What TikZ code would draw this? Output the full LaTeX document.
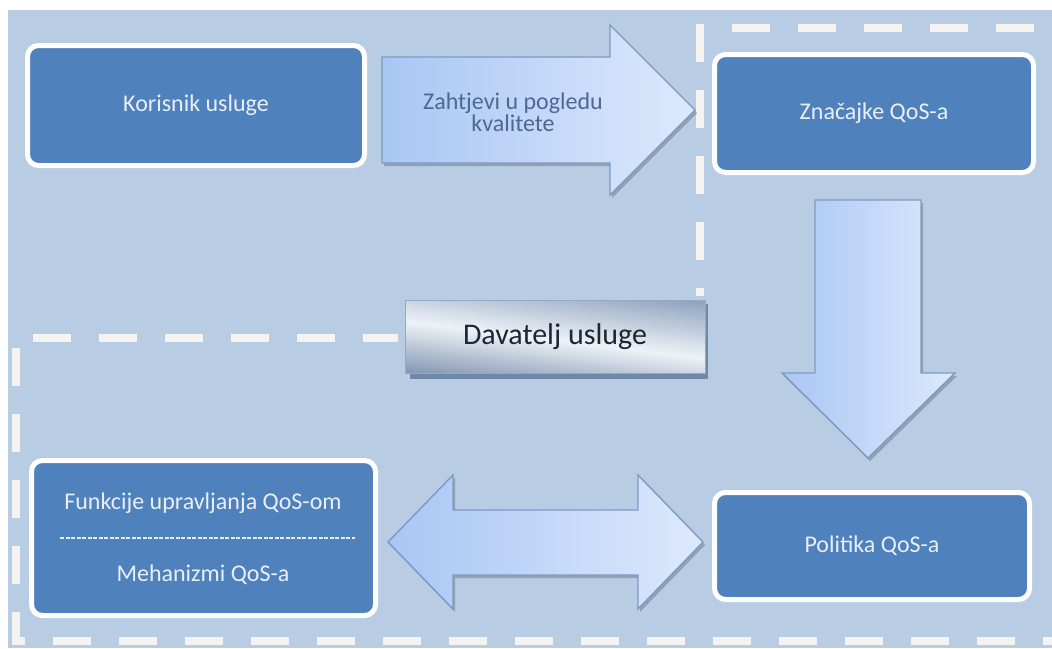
\documentclass[tikz,border=0pt]{standalone}
\usepackage{fontspec}
\setmainfont{Carlito}
\usetikzlibrary{shadows}
\definecolor{bg}{HTML}{B8CCE4}
\definecolor{boxblue}{HTML}{4F81BD}
\definecolor{boxtxt}{HTML}{E8EFF8}
\definecolor{dashc}{HTML}{F4F3EF}
\definecolor{arrL}{HTML}{A9C6F3}
\definecolor{arrR}{HTML}{DDE9FC}
\definecolor{arrD}{HTML}{7D9AC6}
\definecolor{arrtxt}{HTML}{4D6892}
\definecolor{davT}{HTML}{8CA1BD}
\definecolor{davB}{HTML}{7389A8}
\definecolor{davL}{HTML}{EEF2F7}
\definecolor{davE}{HTML}{94A9C5}
\definecolor{davS}{HTML}{6F87A8}
\definecolor{davtxt}{HTML}{1E2731}
\begin{document}
\begin{tikzpicture}[x=1pt,y=-1pt,
  qbox/.style={rectangle, rounded corners=11pt, draw=white, line width=5pt,
    fill=boxblue, text=boxtxt, font=\fontsize{24}{28}\selectfont, inner sep=0pt},
  btext/.style={text=boxtxt, font=\fontsize{24}{28}\selectfont, inner sep=0pt},
  border/.style={draw=dashc, line width=8pt, dash pattern=on 37.5pt off 28.5pt},
  blockarrow/.style={draw=arrD, line width=1.4pt, left color=arrL, right color=arrR,
    line join=miter,
    drop shadow={shadow xshift=2pt, shadow yshift=-3pt, fill=black!35!bg, opacity=.6}},
  ]
\fill[white] (0,0) rectangle (1052,648);
\fill[bg] (8,10) rectangle (1052,648);
\useasboundingbox (0,0) rectangle (1052,648);

% dashed provider region
\coordinate (t1) at (732,28);  \coordinate (t2) at (1052,28);
\coordinate (v1) at (700,24);  \coordinate (v2) at (700,296);
\coordinate (h1) at (33,338);  \coordinate (h2) at (398,338);
\coordinate (l1) at (16,348);  \coordinate (l2) at (16,641); \coordinate (l3) at (1052,641);
\draw[border] (t1) -- (t2);
\draw[border] (v1) -- (v2);
\draw[border] (h1) -- (h2);
\draw[border] (l1) -- (l2) -- (l3);

% block arrows
\draw[blockarrow] (382,57) -- (610,57) -- (610,25) -- (695,110) -- (610,195) -- (610,163) -- (382,163) -- cycle;
\draw[blockarrow] (815,200) -- (921,200) -- (921,373) -- (955,373) -- (868,458) -- (782,373) -- (815,373) -- cycle;
\draw[blockarrow] (388,542) -- (453,475) -- (453,510) -- (638,510) -- (638,475) -- (703,542) -- (638,609) -- (638,575) -- (453,575) -- (453,609) -- cycle;

\node[align=center, text=arrtxt, font=\fontsize{24}{22}\selectfont, inner sep=0pt] (req) at (513,112) {Zahtjevi u pogledu\\kvalitete};

% boxes
\node[qbox, minimum width=337pt, minimum height=120pt] (kor) at (196,105.5) {Korisnik usluge};
\node[qbox, minimum width=319pt, minimum height=118pt] (zna) at (874,113.5) {Značajke QoS-a};
\node[qbox, minimum width=315pt, minimum height=107pt] (pol) at (872,546) {Politika QoS-a};
\node[qbox, minimum width=344pt, minimum height=155pt] (fun) at (203.5,538) {};
\node[btext] (f1) at (203,503) {Funkcije upravljanja QoS-om};
\node[btext] (f2) at (203,575) {Mehanizmi QoS-a};
\coordinate (d1) at (60,538); \coordinate (d2) at (355,538);
\draw[boxtxt, line width=1.5pt, dash pattern=on 4pt off 1.5pt] (d1) -- (d2);

% provider label
\fill[davS] (410,304) rectangle (708,379);
\begin{scope}
  \clip (405,300) rectangle (705,373);
  \shade[top color=davT, bottom color=davB, middle color=davL,
    transform canvas={rotate around={-7:(555,340)}}] (370,282) rectangle (740,398);
\end{scope}
\node[draw=davE, line width=1pt, minimum width=300pt, minimum height=73pt, inner sep=0pt,
  text=davtxt, font=\fontsize{30}{34}\selectfont] (dav) at (555,336.5) {Davatelj usluge};
\end{tikzpicture}
\end{document}
